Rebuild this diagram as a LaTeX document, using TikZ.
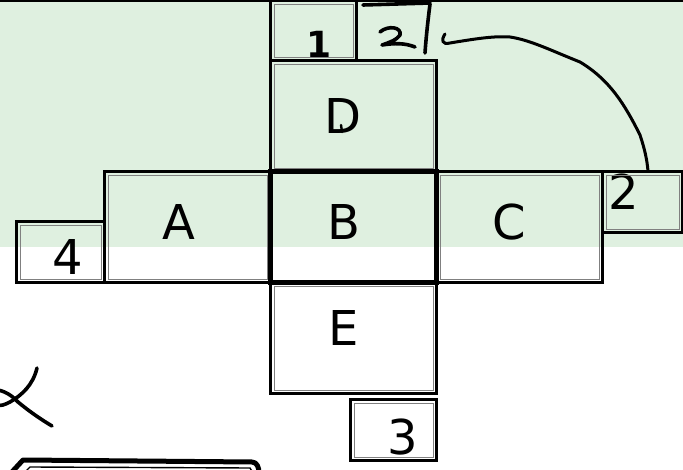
\documentclass[tikz,border=0pt]{standalone}
\usepackage{fontspec}
\setmainfont{DejaVu Sans}
\usetikzlibrary{positioning}
\definecolor{bggreen}{RGB}{223,240,224}

\begin{document}
\begin{tikzpicture}[
    x=1pt, y=-1pt,
    box/.style={rectangle, draw, line width=3pt, outer sep=0pt, inner sep=0pt, minimum width=166pt, minimum height=111pt},
    smallbox/.style={box, minimum width=86pt, minimum height=61pt},
    innerline/.style={draw=gray, line width=0.9pt},
    ink/.style={line width=3.6pt, line cap=round, line join=round},
    every label/.style={font=\fontsize{48}{50}\selectfont, inner sep=0pt}
]
    \useasboundingbox (0,0) rectangle (683,470);
    \fill[white] (0,0) rectangle (683,470);
    % green strip
    \fill[bggreen] (0,0) rectangle (683,247);
    \draw[line width=3pt] (0,1) -- (683,1);

    % the net
    \node[box, line width=5pt, label={[xshift=-10pt, yshift=5pt]center:B}] (b) at (353.5,227) {};
    \node[box, left=0pt of b, label={[xshift=-9pt, yshift=5pt]center:A}] (a) {};
    \node[box, right=0pt of b, label={[xshift=-10pt, yshift=5pt]center:C}] (c) {};
    \node[box, above=0pt of b, label={[xshift=-11pt]center:D}] (d) {};
    \node[box, below=0pt of b, label={[xshift=-10pt, yshift=10pt]center:E}] (e) {};

    % numbered tabs
    \node[smallbox, minimum height=60pt, above right=0pt and 0pt of d.north west,
          label={[xshift=6pt, yshift=-14pt, font=\fontsize{36}{38}\selectfont\bfseries]center:1}] (one) {};
    \node[smallbox, minimum width=80pt, below right=0pt and 0pt of c.north east,
          label={[xshift=-19pt, yshift=10pt]center:2}] (two) {};
    \node[smallbox, below left=6pt and 0pt of e.south east,
          label={[xshift=9pt, yshift=-7pt]center:3}] (three) {};
    \node[smallbox, minimum width=88pt, above left=0pt and 0pt of a.south west,
          label={[xshift=7pt, yshift=-5pt]center:4}] (four) {};

    \foreach \n in {a,c,d,e,one,two,three,four}
        \draw[innerline] ([shift={(3.5pt,-3.5pt)}]\n.north west) rectangle ([shift={(-3.5pt,3.5pt)}]\n.south east);

    % part of a box at the bottom
    \draw[line width=5pt, line join=round] (11,473) -- (23,460) -- (252,462) to[out=0, in=90] (259,473);
    \draw[line width=1.4pt] (24,473) -- (30,467) -- (250,468) -- (253,473);

    % pen strokes
    \draw[ink] (363,5) -- (430,3);
    \draw[ink] (380,32) .. controls (388,25) and (402,27) .. (400,35)
               .. controls (397,40) and (388,43) .. (382,45)
               .. controls (395,43) and (405,43) .. (415,47);
    \draw[ink] (430,4) .. controls (428,20) and (426,38) .. (425,53);
    \draw[line width=3pt, line cap=round] (445,34) .. controls (441,40) and (442,45) .. (450,43)
        .. controls (480,38) and (495,36) .. (510,37)
        .. controls (530,40) and (550,50) .. (580,62)
        .. controls (610,80) and (625,105) .. (640,135)
        .. controls (645,150) and (647,160) .. (648,171);
    \draw[ink, line width=2.4pt] (341,125) -- (342,132);
    \draw[ink] (37,368) .. controls (33,385) and (22,395) .. (10,402)
               .. controls (4,405) and (1,406) .. (-2,405);
    \draw[ink] (-2,390) .. controls (8,392) and (14,398) .. (18,402)
               .. controls (30,412) and (42,420) .. (52,426);
\end{tikzpicture}
\end{document}
